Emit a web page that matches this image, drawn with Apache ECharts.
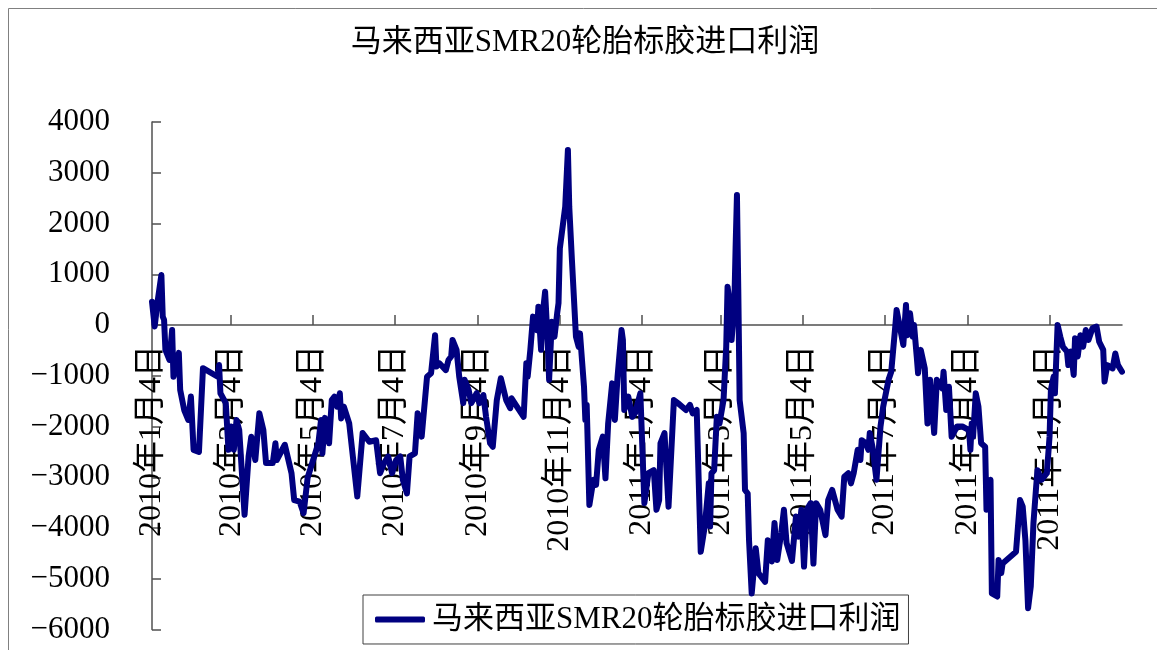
<!DOCTYPE html>
<html>
<head>
<meta charset="utf-8">
<script src="https://cdn.jsdelivr.net/npm/echarts@6/dist/echarts.min.js"></script>
<style>
  html, body { margin: 0; padding: 0; background: #fff; }
  #chart { width: 1157px; height: 650px; }
</style>
</head>
<body>
<div id="chart"></div>
<script>
// 马来西亚SMR20轮胎标胶进口利润 (元/吨), 2010-01 ~ 2011-12
const seriesName = '马来西亚SMR20轮胎标胶进口利润';

const dates = [
  '2010-01-04','2010-01-06','2010-01-08','2010-01-11','2010-01-12','2010-01-13','2010-01-14','2010-01-17','2010-01-19','2010-01-20',
  '2010-01-24','2010-01-25','2010-01-28','2010-01-31','2010-02-02','2010-02-04','2010-02-08','2010-02-11','2010-02-22','2010-02-23',
  '2010-02-24','2010-02-28','2010-03-02','2010-03-04','2010-03-06','2010-03-08','2010-03-10','2010-03-14','2010-03-17','2010-03-19',
  '2010-03-22','2010-03-25','2010-03-28','2010-03-30','2010-04-04','2010-04-06','2010-04-07','2010-04-13','2010-04-18','2010-04-20',
  '2010-04-24','2010-04-27','2010-04-30','2010-05-08','2010-05-10','2010-05-11','2010-05-13','2010-05-16','2010-05-18','2010-05-20',
  '2010-05-22','2010-05-24','2010-05-25','2010-05-27','2010-05-31','2010-06-06','2010-06-10','2010-06-15','2010-06-20','2010-06-23',
  '2010-06-26','2010-06-29','2010-07-02','2010-07-05','2010-07-08','2010-07-10','2010-07-13','2010-07-15','2010-07-19','2010-07-21',
  '2010-07-24','2010-07-28','2010-07-31','2010-08-03','2010-08-04','2010-08-06','2010-08-11','2010-08-13','2010-08-15','2010-08-16',
  '2010-08-19','2010-08-21','2010-08-24','2010-08-25','2010-08-28','2010-08-30','2010-09-03','2010-09-05','2010-09-08','2010-09-10',
  '2010-09-13','2010-09-15','2010-09-18','2010-09-21','2010-09-25','2010-09-28','2010-09-29','2010-10-03','2010-10-08','2010-10-10',
  '2010-10-11','2010-10-13','2010-10-15','2010-10-18','2010-10-19','2010-10-21','2010-10-22','2010-10-24','2010-10-26','2010-10-27',
  '2010-10-29','2010-10-31','2010-11-02','2010-11-03','2010-11-04','2010-11-08','2010-11-10','2010-11-11','2010-11-13','2010-11-16',
  '2010-11-18','2010-11-19','2010-11-22','2010-11-23','2010-11-24','2010-11-26','2010-11-29','2010-12-01','2010-12-03','2010-12-06',
  '2010-12-08','2010-12-10','2010-12-13','2010-12-15','2010-12-17','2010-12-20','2010-12-21','2010-12-22','2010-12-25','2010-12-28',
  '2010-12-30','2011-01-03','2011-01-06','2011-01-09','2011-01-13','2011-01-15','2011-01-17','2011-01-18','2011-01-21','2011-01-24',
  '2011-01-28','2011-01-31','2011-02-06','2011-02-09','2011-02-11','2011-02-14','2011-02-17','2011-02-20','2011-02-23','2011-02-24',
  '2011-02-25','2011-02-27','2011-03-01','2011-03-03','2011-03-06','2011-03-07','2011-03-08','2011-03-09','2011-03-11','2011-03-12',
  '2011-03-14','2011-03-15','2011-03-16','2011-03-17','2011-03-18','2011-03-21','2011-03-22','2011-03-24','2011-03-25','2011-03-27',
  '2011-03-30','2011-04-01','2011-04-06','2011-04-08','2011-04-11','2011-04-13','2011-04-15','2011-04-18','2011-04-20','2011-04-22',
  '2011-04-26','2011-04-29','2011-05-01','2011-05-03','2011-05-05','2011-05-07','2011-05-10','2011-05-12','2011-05-14','2011-05-17',
  '2011-05-21','2011-05-23','2011-05-26','2011-05-30','2011-06-02','2011-06-04','2011-06-07','2011-06-09','2011-06-11','2011-06-14',
  '2011-06-16','2011-06-17','2011-06-20','2011-06-22','2011-06-23','2011-06-25','2011-06-28','2011-07-01','2011-07-03','2011-07-07',
  '2011-07-09','2011-07-12','2011-07-13','2011-07-18','2011-07-20','2011-07-21','2011-07-23','2011-07-25','2011-07-26','2011-07-28',
  '2011-07-29','2011-07-31','2011-08-03','2011-08-05','2011-08-07','2011-08-10','2011-08-12','2011-08-16','2011-08-17','2011-08-19',
  '2011-08-21','2011-08-23','2011-08-27','2011-08-31','2011-09-05','2011-09-06','2011-09-07','2011-09-08','2011-09-10','2011-09-12',
  '2011-09-14','2011-09-17','2011-09-18','2011-09-21','2011-09-22','2011-09-26','2011-09-27','2011-09-29','2011-09-30','2011-10-10',
  '2011-10-13','2011-10-15','2011-10-17','2011-10-19','2011-10-21','2011-10-23','2011-10-25','2011-10-26','2011-10-29','2011-11-02',
  '2011-11-04','2011-11-05','2011-11-07','2011-11-08','2011-11-10','2011-11-12','2011-11-14','2011-11-17','2011-11-18','2011-11-20',
  '2011-11-22','2011-11-23','2011-11-25','2011-11-27','2011-11-29','2011-12-01','2011-12-03','2011-12-06','2011-12-09','2011-12-11',
  '2011-12-14','2011-12-15','2011-12-17','2011-12-21','2011-12-23','2011-12-25','2011-12-28'
];

const profit = [
  460, -30, 430, 985, 165, 100, -490, -690, -100, -1020,
  -550, -1280, -1675, -1870, -1410, -2460, -2500, -850, -1020, -790,
  -1345, -1540, -2460, -2000, -2460, -1870, -2070, -3740, -2590, -2200,
  -2660, -1740, -2070, -2720, -2720, -2330, -2660, -2360, -2920, -3450,
  -3480, -3710, -3010, -2330, -1870, -2530, -1830, -2330, -1480, -1410,
  -1610, -1345, -1840, -1610, -1940, -3380, -2130, -2300, -2270, -2920,
  -2720, -2590, -2920, -2660, -2590, -3050, -3320, -2590, -2530, -1740,
  -2200, -1020, -950, -200, -820, -750, -890, -690, -620, -295,
  -490, -1020, -1540, -1080, -1280, -1540, -1345, -1540, -1380, -1810,
  -2330, -2400, -1480, -1050, -1480, -1640, -1445, -1610, -1810, -755,
  -1020, -490, 165, -100, 360, -490, 165, 655, -360, -1080,
  65, -230, 230, 430, 1510, 2330, 3450, 2330, 1280, -230,
  -430, -165, -1215, -1870, -1575, -3545, -3050, -3150, -2460, -2200,
  -3020, -1940, -1150, -1870, -1020, -100, -295, -1675, -1410, -1810,
  -1740, -1345, -3510, -2920, -2860, -3640, -3450, -2330, -2130, -3580,
  -1480, -1540, -1675, -1575, -1740, -1675, -4470, -3970, -3120, -3970,
  -2920, -2860, -1810, -1940, -1480, -950, -430, 755, 360, -295,
  360, 1540, 2560, 690, -1480, -2130, -3250, -3320, -4240, -5290,
  -4400, -4890, -5060, -4240, -4660, -3900, -4630, -4100, -3640, -4300,
  -4650, -3775, -4170, -3640, -4760, -3640, -3510, -4700, -3510, -3640,
  -4140, -3450, -3250, -3640, -3775, -2990, -2920, -3120, -2920, -2460,
  -2660, -2270, -2330, -2460, -2130, -2400, -3050, -2000, -1610, -1080,
  -920, -30, 295, -395, 395, -200, 230, -230, 0, -620,
  -950, -490, -855, -1940, -1080, -2130, -1080, -1250, -920, -1675,
  -1215, -2200, -2000, -2000, -2070, -2460, -1940, -2200, -1345, -1610,
  -2330, -2400, -3640, -3050, -5290, -5350, -4630, -4890, -4700, -4470,
  -3450, -3580, -4240, -5580, -5150, -3900, -3190, -2860, -3050, -2920,
  -2200, -1280, -1020, -1345, 0, -230, -430, -525, -790, -525,
  -985, -260, -620, -200, -430, -100, -295, -65, -30, -330,
  -490, -1115, -790, -855, -560, -790, -920
];

// dates shown on the horizontal axis
const tickDates = [
  '2010-01-04','2010-03-04','2010-05-04','2010-07-04','2010-09-04','2010-11-04',
  '2011-01-04','2011-03-04','2011-05-04','2011-07-04','2011-09-04','2011-11-04'
];

const yMin = -6000, yMax = 4000, yStep = 1000;
const axisStart = '2010-01-04';
const axisEnd = '2011-12-28';

// dates are placed on a linear day scale (UTC milliseconds)
function toTime(s) {
  const p = s.split('-').map(Number);
  return Date.UTC(p[0], p[1] - 1, p[2]);
}
function fmtDate(v) {
  const d = new Date(v);
  return d.getUTCFullYear() + '年' + (d.getUTCMonth() + 1) + '月' + d.getUTCDate() + '日';
}

const FONT = '"Liberation Serif", "Times New Roman", "Noto Sans CJK SC", serif';
const LINE = '#000080';
const AXIS = '#505050';
const tickValues = tickDates.map(toTime);

const GRID_TOP = 122, GRID_BOTTOM = 20.5;
const plotH = 650 - GRID_TOP - GRID_BOTTOM;
// distance from the bottom of the plot up to the zero line, so the date labels hang under it
const zeroLift = plotH * (0 - yMin) / (yMax - yMin);

const chart = echarts.init(document.getElementById('chart'), null, { renderer: 'canvas' });

chart.setOption({
  animation: false,
  backgroundColor: '#ffffff',
  title: {
    text: seriesName,
    left: 585,
    top: 27,
    textAlign: 'center',
    padding: 0,
    textStyle: { fontFamily: FONT, fontSize: 31, fontWeight: 'normal', color: '#000' }
  },
  legend: {
    left: 363,
    top: 595,
    padding: [9, 8, 9, 12],
    itemWidth: 50,
    itemHeight: 6,
    itemGap: 0,
    icon: 'roundRect',
    borderColor: '#404040',
    borderWidth: 1,
    borderRadius: 0,
    data: [seriesName],
    textStyle: { fontFamily: FONT, fontSize: 31, color: '#000', padding: [0, 0, 0, 2] }
  },
  graphic: [{
    type: 'rect',
    shape: { x: 8.5, y: 8.5, width: 1200, height: 700 },
    style: { fill: 'none', stroke: '#808080', lineWidth: 1 },
    silent: true,
    z: -10
  }],
  grid: { left: 152, right: 35, top: GRID_TOP, bottom: GRID_BOTTOM, containLabel: false, outerBoundsMode: 'none' },
  xAxis: [{
    type: 'value',
    min: toTime(axisStart),
    max: toTime(axisEnd),
    axisLine: { onZero: true, lineStyle: { color: AXIS, width: 1.5 } },
    axisTick: {
      show: true, inside: true, length: 10,
      customValues: tickValues,
      lineStyle: { color: AXIS, width: 1.5 }
    },
    axisLabel: { show: false },
    splitLine: { show: false },
    minorTick: { show: false }
  }, {
    // label carrier: same scale, lifted up to the zero line
    type: 'value',
    position: 'bottom',
    offset: -zeroLift,
    min: toTime(axisStart),
    max: toTime(axisEnd),
    axisLine: { show: false, onZero: false },
    axisTick: { show: false },
    axisLabel: {
      rotate: 90,
      margin: 20,
      customValues: tickValues,
      formatter: (v) => fmtDate(v),
      fontFamily: FONT,
      fontSize: 32,
      color: '#000',
      hideOverlap: false
    },
    splitLine: { show: false },
    minorTick: { show: false }
  }],
  yAxis: {
    type: 'value',
    min: yMin,
    max: yMax,
    interval: yStep,
    axisLine: { show: true, onZero: false, lineStyle: { color: AXIS, width: 1.5 } },
    axisTick: { show: true, inside: true, length: 9, lineStyle: { color: AXIS, width: 1.5 } },
    axisLabel: {
      margin: 42, fontFamily: FONT, fontSize: 31, color: '#000',
      formatter: (v) => String(v).replace('-', '\u2212')
    },
    splitLine: { show: false }
  },
  series: [{
    name: seriesName,
    type: 'line',
    xAxisIndex: 0,
    data: dates.map((d, i) => [toTime(d), profit[i]]),
    showSymbol: false,
    symbol: 'none',
    lineStyle: { color: LINE, width: 6, join: 'round', cap: 'round' },
    itemStyle: { color: LINE },
    z: 5
  }]
});
</script>
</body>
</html>
